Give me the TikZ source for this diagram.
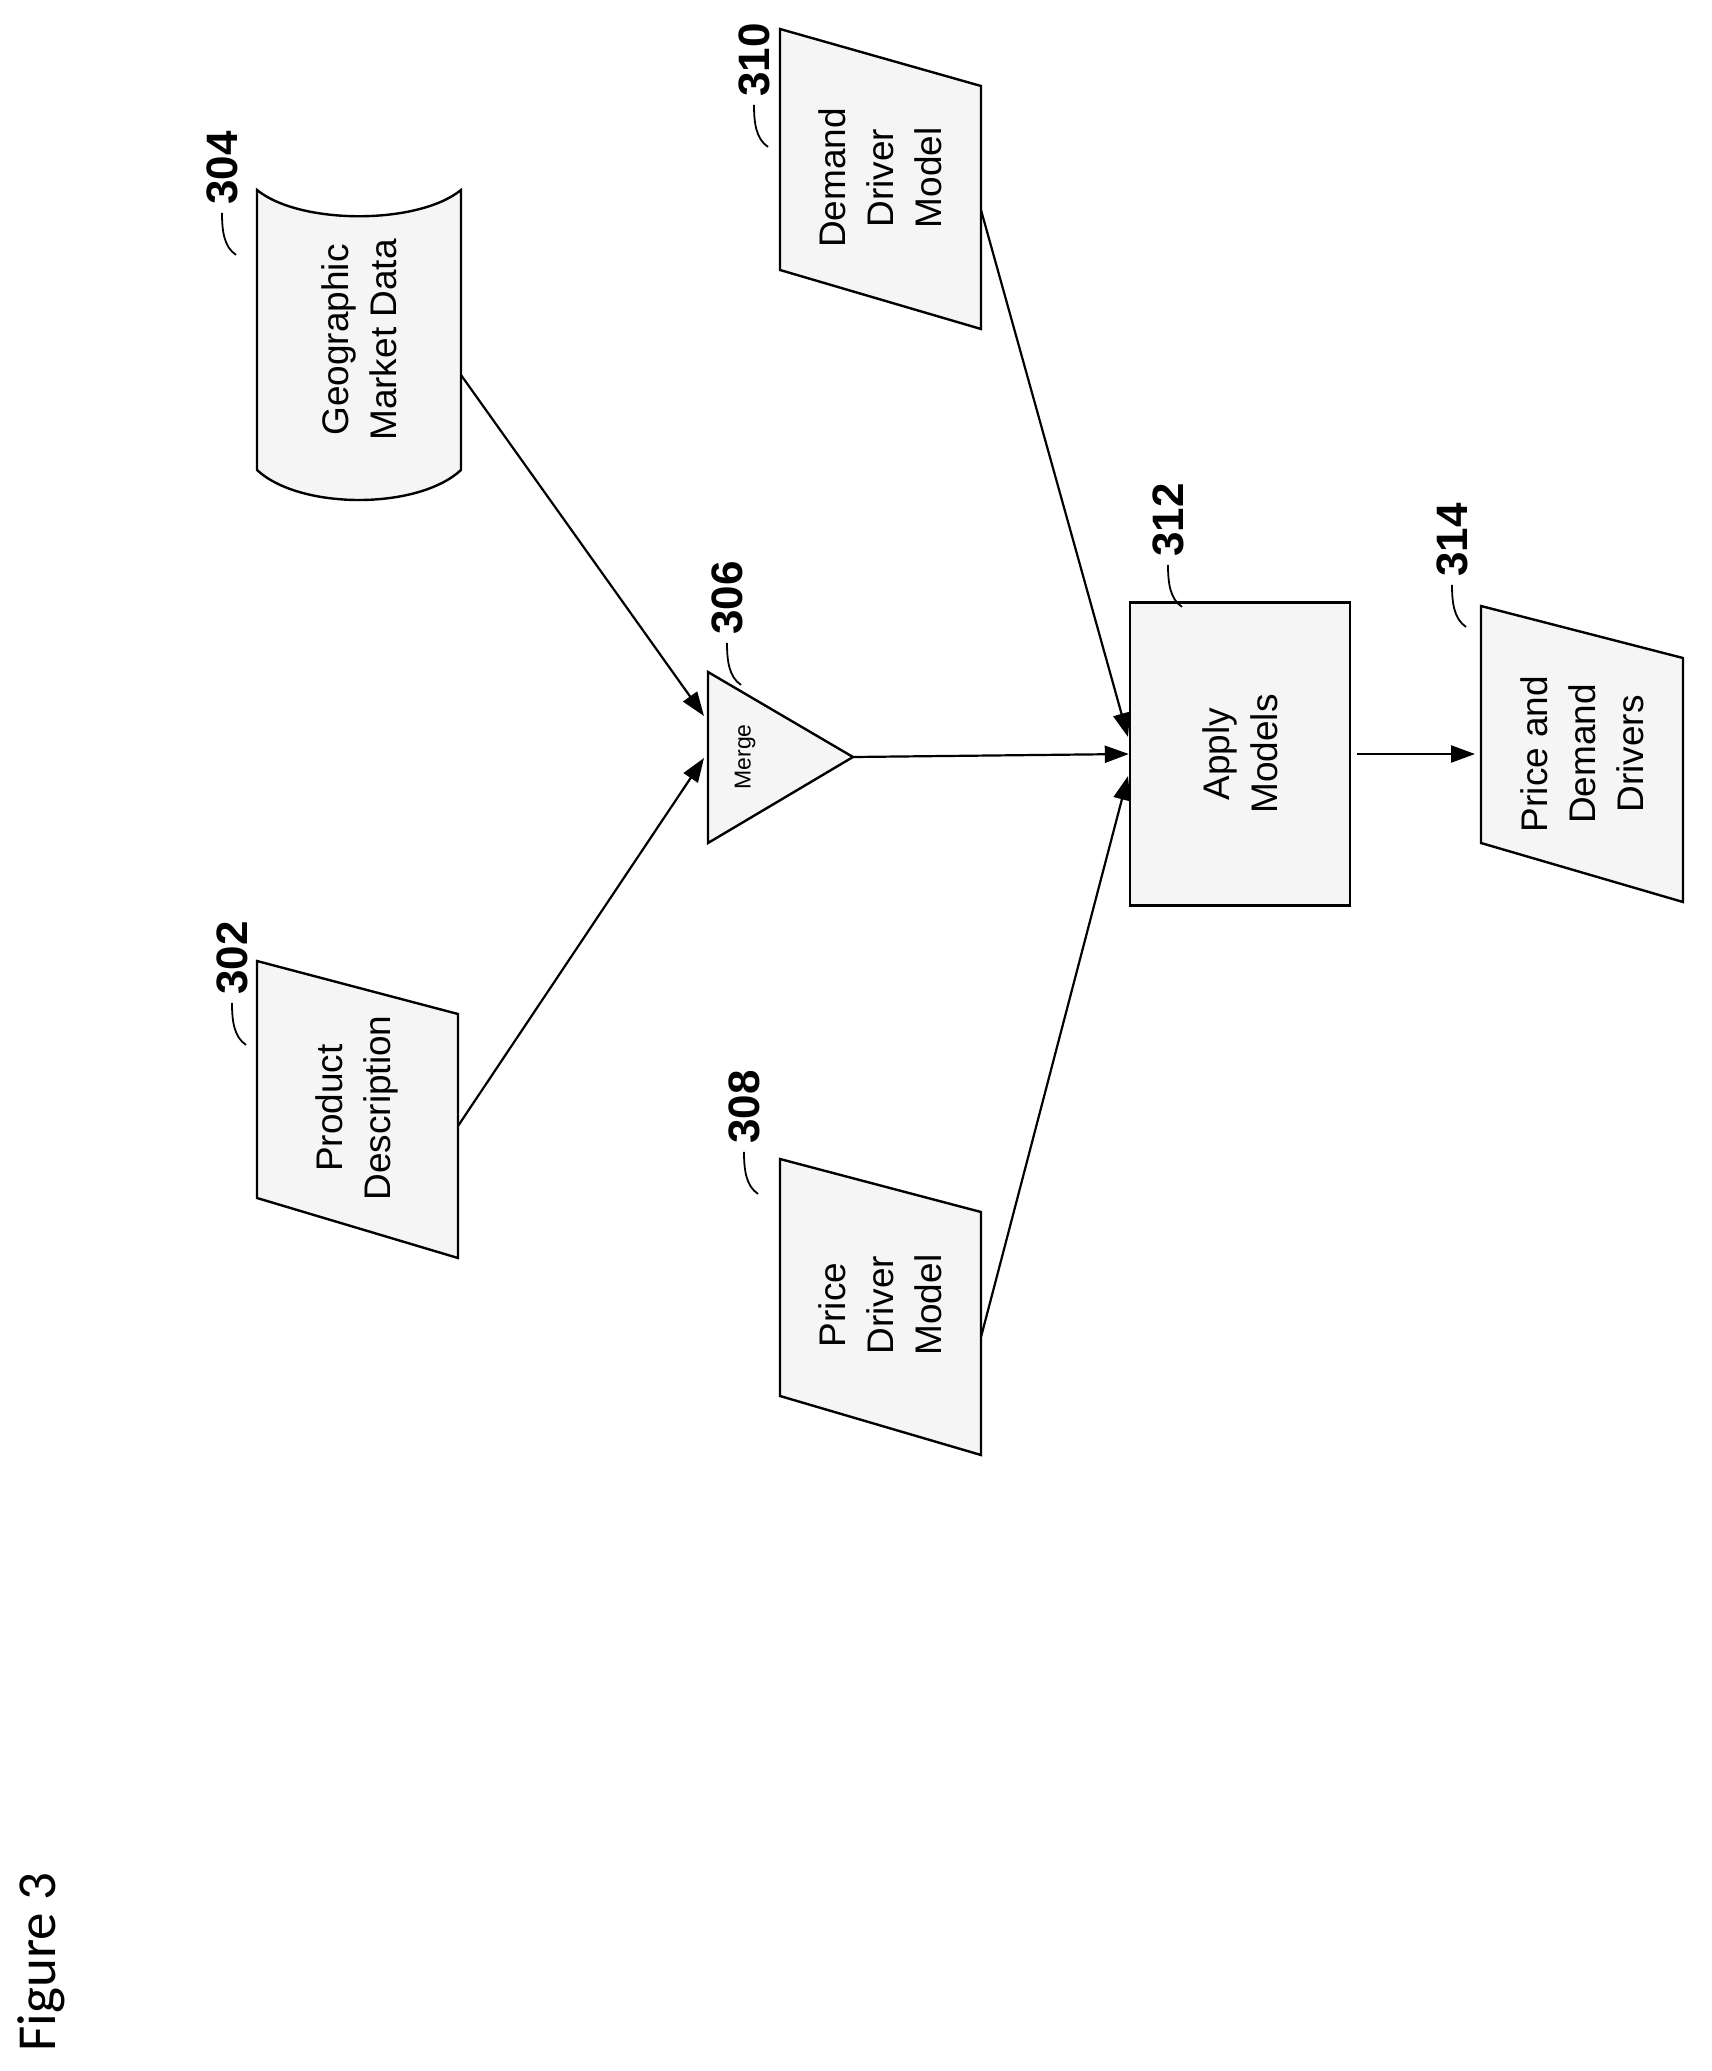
\documentclass[tikz,border=0pt]{standalone}
\usepackage{fontspec}
\setmainfont{Liberation Sans}
\newfontfamily\figfont{Carlito}
\usetikzlibrary{arrows.meta,calc}
\begin{document}
\begin{tikzpicture}[x=1pt,y=-1pt,
  shp/.style={line width=2.4pt,fill=gray!8},
  txt/.style={rotate=90,align=center,font=\fontsize{37}{48}\selectfont},
  lbl/.style={rotate=90,font=\fontsize{44}{48}\selectfont\bfseries,inner sep=2pt},
  lead/.style={line width=1.8pt},
  arr/.style={line width=2.2pt,-{Triangle[length=24pt,width=17pt]}}]
\useasboundingbox (0,0) rectangle (1712,2071);
% 302
\draw[shp] (257,961) -- (458,1014) -- (458,1258) -- (257,1198) -- cycle;
\node[txt] (p302) at (357,1108) {Product\\Description};
\node[lbl] (l302) at (232,958) {302};
% 304 cylinder
\draw[shp] (257,190) .. controls (300,225) and (418,225) .. (461,190) -- (461,470) .. controls (418,510) and (300,510) .. (257,470) -- cycle;
\node[txt] (p304) at (359,340) {Geographic\\Market Data};
\node[lbl] (l304) at (222,168) {304};
% 306 merge
\draw[shp] (708,672) -- (853,757) -- (708,843) -- cycle;
\node[rotate=90,font=\fontsize{23}{26}\selectfont] (p306) at (745,757) {Merge};
\coordinate (m306t) at (853,757);
\node[lbl] (l306) at (727,598) {306};
% 308
\draw[shp] (780,1159) -- (981,1212) -- (981,1455) -- (780,1396) -- cycle;
\node[txt] (p308) at (880,1305) {Price\\Driver\\Model};
\node[lbl] (l308) at (744,1107) {308};
% 310
\draw[shp] (780,29) -- (981,86) -- (981,329) -- (780,270) -- cycle;
\node[txt] (p310) at (880,178) {Demand\\Driver\\Model};
\node[lbl] (l310) at (754,60) {310};
% 312
\node[draw,line width=2.4pt,fill=gray!8,minimum width=220pt,minimum height=303pt] (n312) at (1240,754) {};
\node[txt] (p312) at (1240,754) {Apply\\Models};
\node[lbl] (l312) at (1168,520) {312};
% 314
\draw[shp] (1481,606) -- (1683,658) -- (1683,902) -- (1481,843) -- cycle;
\node[txt] (p314) at (1582,754) {Price and\\Demand\\Drivers};
\node[lbl] (l314) at (1452,540) {314};
% leaders
\foreach \l in {l302,l304,l306,l308,l310,l312,l314}
  \draw[lead] ($(\l.west)+(0,6)$) .. controls +(0,18) and +(-12,-8) .. ++(14,42);
% figure label
\node[rotate=90,font=\figfont\fontsize{55}{60}\selectfont] (fig) at (41,1962) {Figure 3};
% connectors
\coordinate (a1) at (458,1126);
\coordinate (a2) at (461,375);
\draw[arr] (a1) -- (704,758);
\draw[arr] (a2) -- (704,716);
\draw[arr] (m306t) -- (n312.west);
\coordinate (a3) at (981,1337);
\draw[arr] (a3) -- (1128,776);
\coordinate (a4) at (981,210);
\draw[arr] (a4) -- (1128,737);
\coordinate (a5) at (1357,754);
\draw[arr] (a5) -- (1475,754);
\end{tikzpicture}
\end{document}
